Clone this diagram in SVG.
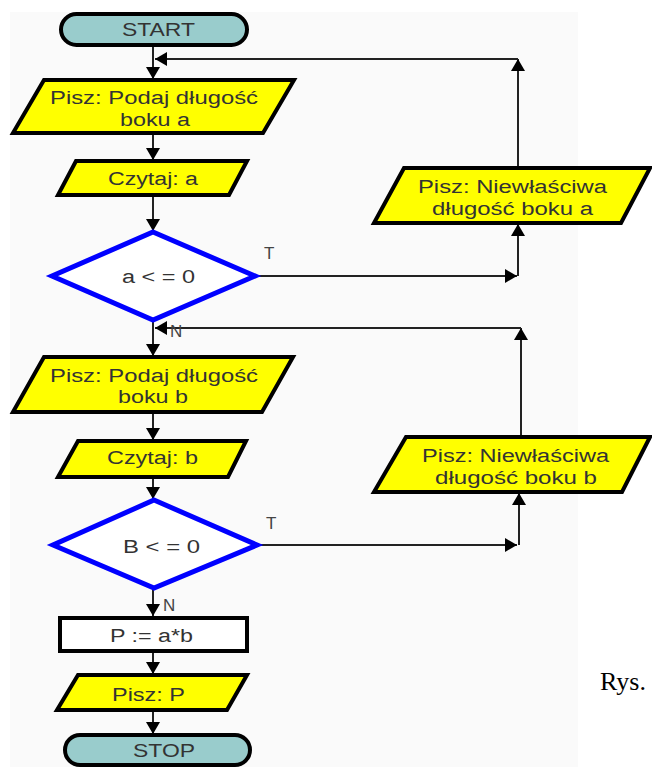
<svg xmlns="http://www.w3.org/2000/svg" width="652" height="767" viewBox="0 0 652 767">
  <style>
    .term { fill: #99cccc; stroke: #000; stroke-width: 4; }
    .io { fill: #ffff00; stroke: #000; stroke-width: 4; stroke-linejoin: miter; }
    .proc { fill: #ffffff; stroke: #000; stroke-width: 4; }
    .dec { fill: #ffffff; stroke: #0000ff; stroke-width: 5; stroke-linejoin: miter; }
    .lbl { font-family: "Liberation Sans", Arial, sans-serif; font-size: 18px; fill: #333333; }
    .small { font-family: "Liberation Sans", Arial, sans-serif; font-size: 17px; fill: #444444; }
    .cap { font-family: "Liberation Serif", "Times New Roman", serif; font-size: 26px; fill: #000; }
    .wire { fill: none; stroke: #222; stroke-width: 2; }
  </style>
  <defs>
    <marker id="arrow" viewBox="0 0 12 14" refX="12" refY="7" markerWidth="12" markerHeight="14" markerUnits="userSpaceOnUse" orient="auto">
      <path d="M0,0 L12,7 L0,14 z" fill="#000"/>
    </marker>
  </defs>

  <rect x="0" y="0" width="652" height="767" fill="#ffffff"/>
  <rect x="10" y="12" width="568" height="755" fill="#fafafa"/>

  <g id="connectors">
    <!-- main column -->
    <path class="wire" d="M153,45 V79" marker-end="url(#arrow)"/>
    <path class="wire" d="M153,133 V160" marker-end="url(#arrow)"/>
    <path class="wire" d="M153,195 V231" marker-end="url(#arrow)"/>
    <path class="wire" d="M153,320 V356" marker-end="url(#arrow)"/>
    <path class="wire" d="M153,412 V440" marker-end="url(#arrow)"/>
    <path class="wire" d="M153,477 V499" marker-end="url(#arrow)"/>
    <path class="wire" d="M153,588 V616" marker-end="url(#arrow)"/>
    <path class="wire" d="M153,651 V674" marker-end="url(#arrow)"/>
    <path class="wire" d="M153,710 V734" marker-end="url(#arrow)"/>
    <!-- side a: T branch and loop back -->
    <path class="wire" d="M255,276 H517" marker-end="url(#arrow)"/>
    <path class="wire" d="M518,276 V224" marker-end="url(#arrow)"/>
    <path class="wire" d="M518,168 V59" marker-end="url(#arrow)"/>
    <path class="wire" d="M518,59 H155" marker-end="url(#arrow)"/>
    <!-- side b: T branch and loop back -->
    <path class="wire" d="M257,545 H517" marker-end="url(#arrow)"/>
    <path class="wire" d="M519,545 V493" marker-end="url(#arrow)"/>
    <path class="wire" d="M521,437 V328" marker-end="url(#arrow)"/>
    <path class="wire" d="M521,328 H155" marker-end="url(#arrow)"/>
  </g>

  <g id="start">
    <rect class="term" x="61" y="14" width="186" height="31" rx="15.5"/>
    <text class="lbl" x="122" y="36" textLength="73" lengthAdjust="spacingAndGlyphs">START</text>
  </g>

  <g id="write-prompt-a">
    <polygon class="io" points="44,80 294,80 263,133 13,133"/>
    <text class="lbl" x="50" y="104" textLength="208" lengthAdjust="spacingAndGlyphs">Pisz: Podaj długość</text>
    <text class="lbl" x="120" y="126" textLength="70" lengthAdjust="spacingAndGlyphs">boku a</text>
  </g>

  <g id="read-a">
    <polygon class="io" points="76,161 247,161 229,195 58,195"/>
    <text class="lbl" x="108" y="185" textLength="90" lengthAdjust="spacingAndGlyphs">Czytaj: a</text>
  </g>

  <g id="check-a">
    <polygon class="dec" points="153,232 255,276 153,320 52,276"/>
    <text class="lbl" x="122" y="283" textLength="73" lengthAdjust="spacingAndGlyphs">a &lt; = 0</text>
    <text class="small" x="264" y="259">T</text>
    <text class="small" x="170" y="337">N</text>
  </g>

  <g id="error-a">
    <polygon class="io" points="404,168 650,168 621,223 374,223"/>
    <text class="lbl" x="418" y="193" textLength="189" lengthAdjust="spacingAndGlyphs">Pisz: Niewłaściwa</text>
    <text class="lbl" x="432" y="215" textLength="161" lengthAdjust="spacingAndGlyphs">długość boku a</text>
  </g>

  <g id="write-prompt-b">
    <polygon class="io" points="44,357 293,357 262,412 13,412"/>
    <text class="lbl" x="50" y="382" textLength="208" lengthAdjust="spacingAndGlyphs">Pisz: Podaj długość</text>
    <text class="lbl" x="118" y="403" textLength="70" lengthAdjust="spacingAndGlyphs">boku b</text>
  </g>

  <g id="read-b">
    <polygon class="io" points="78,441 246,441 228,477 58,477"/>
    <text class="lbl" x="107" y="464" textLength="91" lengthAdjust="spacingAndGlyphs">Czytaj: b</text>
  </g>

  <g id="check-b">
    <polygon class="dec" points="154,500 257,545 154,588 53,545"/>
    <text class="lbl" x="123" y="553" textLength="77" lengthAdjust="spacingAndGlyphs">B &lt; = 0</text>
    <text class="small" x="266" y="529">T</text>
    <text class="small" x="163" y="611">N</text>
  </g>

  <g id="error-b">
    <polygon class="io" points="406,437 650,437 622,492 374,492"/>
    <text class="lbl" x="422" y="462" textLength="187" lengthAdjust="spacingAndGlyphs">Pisz: Niewłaściwa</text>
    <text class="lbl" x="435" y="484" textLength="162" lengthAdjust="spacingAndGlyphs">długość boku b</text>
  </g>

  <g id="compute-area">
    <rect class="proc" x="60" y="618" width="187" height="33"/>
    <text class="lbl" x="110" y="642" textLength="83" lengthAdjust="spacingAndGlyphs">P := a*b</text>
  </g>

  <g id="write-area">
    <polygon class="io" points="78,675 247,675 227,710 57,710"/>
    <text class="lbl" x="112" y="701" textLength="73" lengthAdjust="spacingAndGlyphs">Pisz: P</text>
  </g>

  <g id="stop">
    <rect class="term" x="65" y="735" width="185" height="30" rx="15"/>
    <text class="lbl" x="133" y="757" textLength="62" lengthAdjust="spacingAndGlyphs">STOP</text>
  </g>

  <text class="cap" x="600" y="690">Rys.</text>
</svg>
